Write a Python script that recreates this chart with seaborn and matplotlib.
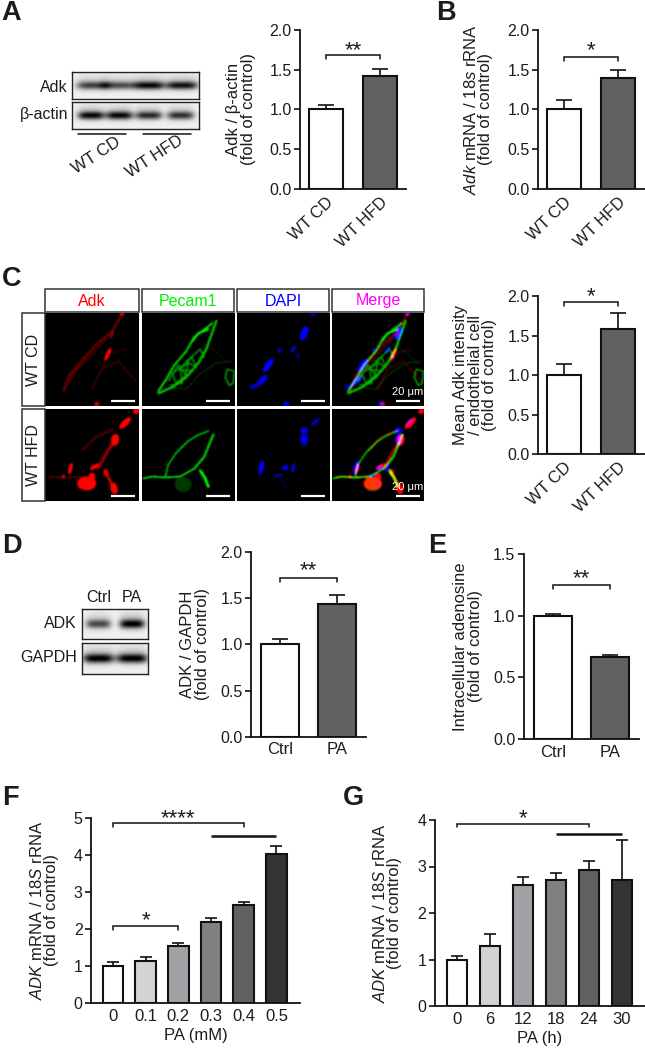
import numpy as np
import pandas as pd
import matplotlib
matplotlib.use('Agg')
import matplotlib.pyplot as plt
from matplotlib.patches import Rectangle
import seaborn as sns

# Bar values, tops = mean + error
wt_labels = ['WT CD', 'WT HFD']
a_values = [1.0, 1.42]
a_tops = [1.05, 1.51]
b_values = [1.0, 1.40]
b_tops = [1.12, 1.49]
c_values = [1.0, 1.58]
c_tops = [1.14, 1.78]
pa_labels = ['Ctrl', 'PA']
d_values = [1.0, 1.44]
d_tops = [1.06, 1.53]
e_values = [1.0, 0.665]
e_tops = [1.015, 0.685]
f_labels = ['0', '0.1', '0.2', '0.3', '0.4', '0.5']
f_values = [1.0, 1.13, 1.53, 2.18, 2.65, 4.03]
f_tops = [1.12, 1.25, 1.61, 2.29, 2.73, 4.23]
g_labels = ['0', '6', '12', '18', '24', '30']
g_values = [1.0, 1.3, 2.6, 2.7, 2.92, 2.7]
g_tops = [1.07, 1.55, 2.78, 2.85, 3.11, 3.56]

two_colors = ['#ffffff', '#616161']
six_colors = ['#ffffff', '#d3d3d3', '#a2a2a6', '#808080', '#616161', '#333333']

W, H = 645, 1050
INK = '#1c1c1c'

sns.set_style('ticks')
plt.rcParams['font.family'] = ['Liberation Sans', 'DejaVu Sans']
plt.rcParams['mathtext.fontset'] = 'custom'
plt.rcParams['mathtext.rm'] = 'Liberation Sans'
plt.rcParams['mathtext.it'] = 'Liberation Sans:italic'
plt.rcParams['text.color'] = INK

fig = plt.figure(figsize=(W / 100, H / 100), dpi=100)


def px_axes(left, top, right, bottom):
    return fig.add_axes([left / W, 1 - bottom / H, (right - left) / W, (bottom - top) / H])


def px_text(x, y, s, **kw):
    kw.setdefault('ha', 'center')
    kw.setdefault('va', 'center')
    fig.text(x / W, 1 - y / H, s, **kw)


def bar_panel(box, labels, values, tops, colors, ymax, step, xlim, width, ylabel, label_x,
              cap=6, rotate=False, xlabel=None, fmt='%.1f', tick_size=12):
    ax = px_axes(*box)
    df = pd.DataFrame({'group': labels, 'value': values})
    sns.barplot(data=df, x='group', y='value', hue='group', palette=colors, legend=False,
                edgecolor='#111111', linewidth=1.5, width=width, ax=ax, saturation=1)
    errs = [t - v for t, v in zip(tops, values)]
    ax.errorbar(range(len(values)), values, yerr=[[0] * len(values), errs], fmt='none',
                ecolor='#111111', elinewidth=1.2, capsize=cap, capthick=1.2, zorder=1)
    ax.set_xlim(*xlim)
    ax.set_ylim(0, ymax)
    ax.set_yticks(np.arange(0, ymax + 0.01, step))
    ax.yaxis.set_major_formatter(matplotlib.ticker.FormatStrFormatter(fmt))
    sns.despine(ax=ax)
    for side in ['left', 'bottom']:
        ax.spines[side].set_linewidth(1.3)
        ax.spines[side].set_color('#111111')
    ax.tick_params(axis='y', length=4, width=1.2, labelsize=11.5, pad=2, color='#111111', labelcolor=INK)
    ax.tick_params(axis='x', length=0, labelsize=tick_size, pad=4, labelcolor=INK)
    if rotate:
        ax.tick_params(axis='x', pad=4, labelsize=12)
        plt.setp(ax.get_xticklabels(), rotation=44, ha='right', rotation_mode='anchor')
    ax.set_ylabel(ylabel, fontsize=12, linespacing=0.98, va='center', ha='center', color=INK)
    ax.yaxis.set_label_coords((label_x - box[0]) / (box[2] - box[0]), 0.5)
    if xlabel:
        ax.set_xlabel(xlabel, fontsize=12, labelpad=3, color=INK)
    else:
        ax.set_xlabel('')
    return ax


def bracket(ax, x0, x1, y, tip, stars=None, star_y=None):
    ax.plot([x0, x0, x1, x1], [y - tip, y, y, y - tip], color='#111111', lw=1.1, clip_on=False,
            solid_joinstyle='miter')
    if stars:
        ax.annotate(stars, ((x0 + x1) / 2, star_y), xytext=(0, -6.5), textcoords='offset points',
                    ha='center', va='baseline', fontsize=16, annotation_clip=False)


def solid_line(ax, x0, x1, y):
    ax.plot([x0, x1], [y, y], color='#111111', lw=1.8, clip_on=False, solid_capstyle='butt')


# Charts
ax = bar_panel((300, 30, 406, 188.7), wt_labels, a_values, a_tops, two_colors, 2.0, 0.5, (-0.48, 1.48),
               0.62, 'Adk / \u03b2-actin\n(fold of control)', 241, rotate=True)
bracket(ax, 0, 1, 1.69, 0.05, '**', 1.79)

ax = bar_panel((538, 30, 645, 188.7), wt_labels, b_values, b_tops, two_colors, 2.0, 0.5, (-0.48, 1.5),
               0.62, r'$\mathit{Adk}$ mRNA / $\mathit{18s}$ rRNA' + '\n(fold of control)', 478, rotate=True)
bracket(ax, 0, 1, 1.665, 0.05, '*', 1.78)

ax = bar_panel((538, 296, 645, 454.3), wt_labels, c_values, c_tops, two_colors, 2.0, 0.5, (-0.48, 1.5),
               0.62, 'Mean Adk intensity\n/ endothelial cell\n(fold of control)', 475, rotate=True)
bracket(ax, 0, 1, 1.92, 0.05, '*', 2.03)

ax = bar_panel((251, 552, 366, 736.7), pa_labels, d_values, d_tops, two_colors, 2.0, 0.5, (-0.51, 1.51),
               0.67, 'ADK / GAPDH\n(fold of control)', 195)
bracket(ax, 0, 1, 1.72, 0.05, '**', 1.834)

ax = bar_panel((523.5, 554, 639, 739), pa_labels, e_values, e_tops, two_colors, 1.5, 0.5, (-0.51, 1.51),
               0.67, 'Intracellular adenosine\n(fold of control)', 468)
bracket(ax, 0, 1, 1.25, 0.03, '**', 1.33)

ax = bar_panel((91, 818, 300, 1003), f_labels, f_values, f_tops, six_colors, 5, 1, (-0.67, 5.72),
               0.63, r'$\mathit{ADK}$ mRNA / $\mathit{18S}$ rRNA' + '\n(fold of control)', 44,
               cap=4, xlabel='PA (mM)', fmt='%d')
bracket(ax, 0, 4, 4.86, 0.1, '****', 5.08)
solid_line(ax, 3, 5, 4.52)
bracket(ax, 0, 2, 2.08, 0.1, '*', 2.32)

ax = bar_panel((434.6, 820, 645, 1006), g_labels, g_values, g_tops, six_colors, 4, 1, (-0.68, 5.7),
               0.63, r'$\mathit{ADK}$ mRNA / $\mathit{18S}$ rRNA' + '\n(fold of control)', 387,
               cap=4, xlabel='PA (h)', fmt='%d')
bracket(ax, 0, 4, 3.92, 0.08, '*', 4.11)
solid_line(ax, 3, 5, 3.7)


# Western blots, painted as soft dark bands on a light ground
def blot(box, centers, strengths, half_width):
    ax = px_axes(*box)
    yy, xx = np.mgrid[0:1:90j, 0:1:240j]
    img = np.full(xx.shape, 0.94)
    for c, s in zip(centers, strengths):
        across = np.exp(-((xx - c) / half_width) ** 4)
        img -= s * 0.82 * across * np.exp(-((yy - 0.5) / 0.15) ** 2)
        img -= s * 0.14 * across * np.exp(-((yy - 0.36) / 0.28) ** 2)
    ax.imshow(np.clip(img, 0, 1), cmap='gray', vmin=0, vmax=1, aspect='auto', interpolation='bilinear')
    ax.set_xticks([])
    ax.set_yticks([])
    for sp in ax.spines.values():
        sp.set_linewidth(1.0)
        sp.set_color('#222222')


blot((72, 72, 199, 99), [0.16, 0.36, 0.6, 0.86], [0.75, 0.7, 1.0, 0.95], 0.125)
blot((72, 102, 199, 129), [0.15, 0.37, 0.6, 0.85], [1.0, 1.0, 0.85, 0.82], 0.105)
blot((82, 609, 148, 639), [0.25, 0.76], [0.72, 1.05], 0.19)
blot((82, 643, 148, 674), [0.25, 0.76], [1.05, 1.05], 0.235)

px_text(68, 87, 'Adk', ha='right', fontsize=11.5)
px_text(68, 114, '\u03b2-actin', ha='right', fontsize=11.5)
fig.add_artist(plt.Line2D([78 / W, 126 / W], [1 - 134 / H] * 2, color='#111111', lw=1.1))
fig.add_artist(plt.Line2D([143 / W, 191 / W], [1 - 134 / H] * 2, color='#111111', lw=1.1))
px_text(96, 155, 'WT CD', fontsize=12, rotation=33)
px_text(155, 157, 'WT HFD', fontsize=12, rotation=33)
px_text(99, 597, 'Ctrl', fontsize=11.5)
px_text(132, 597, 'PA', fontsize=11.5)
px_text(77, 623, 'ADK', ha='right', fontsize=11.5)
px_text(77, 658, 'GAPDH', ha='right', fontsize=11.5)

# Micrographs: additive channels painted on a black field, coordinates in panel pixels
N = 186
SC = N / 93
gy, gx = np.mgrid[0:N, 0:N] / SC


def ellipse(ch, x, y, w, h, angle, level=1.0):
    t = np.deg2rad(angle)
    dx, dy = gx - x, gy - y
    u = dx * np.cos(t) + dy * np.sin(t)
    v = -dx * np.sin(t) + dy * np.cos(t)
    ch[(u / (w / 2)) ** 2 + (v / (h / 2)) ** 2 <= 1] = level


def stroke(ch, pts, width, level, dots=0.0):
    pts = np.array(pts, float)
    s = 0.0
    for p, q in zip(pts[:-1], pts[1:]):
        for f in np.linspace(0, 1, int(np.hypot(*(q - p)) * 2) + 2):
            m = p + (q - p) * f
            s += 0.5
            lev = level * (1 - dots * (0.5 + 0.25 * np.sin(s * 1.3) + 0.25 * np.sin(s * 3.1)))
            mask = (gx - m[0]) ** 2 + (gy - m[1]) ** 2 <= (width / 2) ** 2
            ch[mask] = np.maximum(ch[mask], lev)


def soften(ch, sigma=1.4):
    k = np.exp(-np.arange(-5, 6) ** 2 / (2 * sigma ** 2))
    k /= k.sum()
    out = np.apply_along_axis(np.convolve, 0, ch, k, 'same')
    return np.apply_along_axis(np.convolve, 1, out, k, 'same')


def empty():
    return np.zeros((N, N))


# WT CD channels
red1, green1, blue1 = empty(), empty(), empty()
stroke(red1, [(18, 78), (24, 62), (36, 48), (50, 32), (66, 18), (76, 1)], 3.0, 0.45, 1.0)
stroke(red1, [(22, 72), (30, 58), (44, 44), (60, 26)], 2.0, 0.35, 1.0)
stroke(red1, [(46, 76), (56, 56), (72, 48), (90, 68)], 1.8, 0.35, 1.0)
stroke(red1, [(54, 60), (64, 40), (80, 36)], 1.6, 0.3, 1.0)
ellipse(red1, 62, 41, 4, 14, 25, 1.0)
ellipse(red1, 66, 21, 3, 9, 20, 0.55)
ellipse(red1, 76, 1, 5, 3, 0, 0.9)
ellipse(red1, 51, 91, 5, 5, 0, 0.8)
stroke(green1, [(16, 78), (24, 66), (32, 52), (44, 38), (52, 24), (70, 10)], 2.0, 0.95, 0.3)
stroke(green1, [(16, 80), (30, 74), (44, 64), (56, 50), (64, 36), (74, 8)], 2.4, 0.85, 0.35)
stroke(green1, [(50, 28), (56, 20), (66, 16)], 2.2, 1.0)
for mesh in [[(26, 68), (36, 52), (44, 62), (34, 70), (30, 60), (46, 50), (42, 66)],
             [(36, 56), (50, 44), (54, 54), (44, 48), (58, 36), (62, 44)],
             [(28, 72), (40, 70), (38, 56), (50, 58)]]:
    stroke(green1, mesh, 1.6, 0.7, 0.5)
stroke(green1, [(30, 74), (44, 76), (56, 62), (74, 50), (90, 48)], 1.2, 0.3, 0.7)
stroke(green1, [(60, 30), (76, 40), (86, 50)], 1.0, 0.2, 0.7)
stroke(green1, [(85, 56), (83, 64), (87, 72), (91, 70), (92, 58), (85, 56)], 1.5, 0.65)
ellipse(blue1, 67, 20, 7, 15, 22, 1.0)
ellipse(blue1, 42, 37, 3, 5, 20, 0.9)
ellipse(blue1, 56, 36, 3, 9, 35, 0.9)
ellipse(blue1, 61, 43, 2, 6, 15, 0.8)
ellipse(blue1, 31, 52, 6, 16, 35, 1.0)
ellipse(blue1, 25, 67, 6, 14, 45, 0.9)
ellipse(blue1, 17, 73, 5, 10, 70, 0.7)
ellipse(blue1, 49, 91, 6, 6, 0, 0.9)
ellipse(blue1, 76, 1, 5, 3, 0, 0.9)

# WT HFD channels
red2, green2, blue2 = empty(), empty(), empty()
stroke(red2, [(3, 68), (20, 69), (40, 68)], 1.8, 0.5, 0.9)
stroke(red2, [(36, 42), (50, 28), (68, 20)], 2.4, 0.4, 1.0)
stroke(red2, [(52, 60), (62, 42), (70, 30)], 3.5, 0.65, 0.8)
stroke(red2, [(60, 64), (64, 72), (68, 80)], 3, 0.8, 0.3)
ellipse(red2, 79, 14, 6, 15, 45, 1.0)
ellipse(red2, 69, 31, 8, 12, 10, 1.0)
ellipse(red2, 90, 2, 6, 6, 0, 1.0)
ellipse(red2, 25, 60, 4, 12, 15, 1.0)
ellipse(red2, 49, 58, 4, 11, 60, 1.0)
ellipse(red2, 41, 75, 19, 14, 0, 1.0)
ellipse(red2, 46, 69, 7, 10, 10, 1.0)
ellipse(red2, 68, 80, 7, 12, -15, 1.0)
ellipse(red2, 60, 64, 5, 8, -10, 0.9)
ellipse(red2, 18, 68, 3, 4, 0, 0.9)
stroke(green2, [(1, 70), (10, 68), (23, 69), (38, 68), (52, 60)], 1.8, 1.0, 0.4)
stroke(green2, [(23, 69), (26, 56), (34, 44), (46, 32), (56, 26), (66, 22)], 1.6, 0.95, 0.55)
stroke(green2, [(52, 60), (62, 48), (66, 38), (71, 26)], 2.4, 0.9, 0.45)
stroke(green2, [(58, 62), (63, 70), (66, 78)], 3.0, 1.0, 0.3)
ellipse(green2, 41, 76, 17, 15, 0, 0.22)
ellipse(blue2, 67, 22, 8, 8, 0, 0.85)
ellipse(blue2, 67, 31, 8, 11, 0, 0.85)
ellipse(blue2, 78, 13, 3, 11, 45, 0.9)
ellipse(blue2, 24, 59, 5, 14, 15, 1.0)
ellipse(blue2, 48, 59, 7, 5, -25, 0.9)
ellipse(blue2, 56, 59, 3, 10, 20, 1.0)
ellipse(blue2, 41, 67, 8, 3, -20, 0.85)
stroke(blue2, [(40, 76), (46, 72), (48, 78)], 1.5, 0.4, 0.7)

rows = [[soften(c) for c in (red1, green1, blue1)], [soften(c) for c in (red2, green2, blue2)]]
col_edges = [(45, 139), (142, 234), (237, 329), (332, 424)]
row_edges = [(313, 406), (409, 501)]
headers = [('Adk', '#ff0000'), ('Pecam1', '#00ee00'), ('DAPI', '#0000ff'), ('Merge', '#ff00ff')]

for r, (top, bottom) in enumerate(row_edges):
    channels = rows[r]
    for c, (left, right) in enumerate(col_edges):
        ax = px_axes(left, top, right, bottom)
        img = np.zeros((N, N, 3))
        if c == 3:
            for i in range(3):
                img[..., i] = channels[i]
        else:
            img[..., c] = channels[c]
        ax.imshow(np.clip(img, 0, 1), aspect='auto', extent=(0, 93, 93, 0), interpolation='bilinear')
        ax.plot([65, 89], [88, 88], color='white', lw=1.6, solid_capstyle='butt')
        if c == 3:
            ax.text(76, 79, '20 \u03bcm', color='white', fontsize=8, ha='center', va='center')
        ax.set_xticks([])
        ax.set_yticks([])
        ax.set_xlim(0, 93)
        ax.set_ylim(93, 0)
        for sp in ax.spines.values():
            sp.set_visible(False)

for (left, right), (name, color) in zip(col_edges, headers):
    fig.add_artist(Rectangle((left / W, 1 - 312 / H), (right - left) / W, 23 / H, fc='white',
                             ec='#333333', lw=1.1, transform=fig.transFigure))
    px_text((left + right) / 2, 301, name, color=color, fontsize=11.5)

for (top, bottom), name in zip(row_edges, ['WT CD', 'WT HFD']):
    fig.add_artist(Rectangle((22 / W, 1 - bottom / H), 23 / W, (bottom - top) / H, fc='white',
                             ec='#333333', lw=1.1, transform=fig.transFigure))
    px_text(34, (top + bottom) / 2, name, rotation=90, fontsize=11.5)

# Panel letters
for letter, x, y in [('A', 1, 20), ('B', 436, 20), ('C', 2, 286), ('D', 2, 553),
                     ('E', 428, 553), ('F', 2, 805), ('G', 343, 805)]:
    px_text(x, y, letter, fontsize=19.5, fontweight='bold', ha='left', va='baseline')

fig.savefig('out.png', dpi=100)
plt.close(fig)
